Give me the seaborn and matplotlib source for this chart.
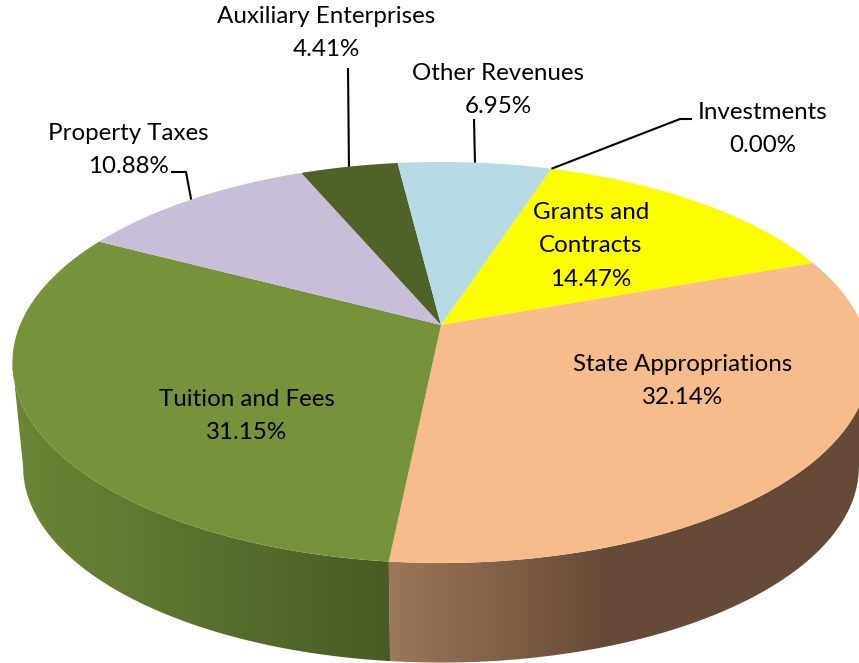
import numpy as np
import matplotlib
matplotlib.use("Agg")
import matplotlib.pyplot as plt
from matplotlib.patches import Polygon
import seaborn as sns

# ---- data (clockwise from the pie's first slice) ----
categories = ["Grants and\nContracts", "State Appropriations", "Tuition and Fees",
              "Property Taxes", "Auxiliary Enterprises", "Other Revenues", "Investments"]
shares = [14.47, 32.14, 31.15, 10.88, 4.41, 6.95, 0.00]
top_colors = ["#FDFD00", "#F6BC8B", "#76923A", "#C9BEDA", "#4F6228", "#B6DBE5", "#8064A2"]
side_light = [None, "#9C7759", "#6C8636", None, None, None, None]
side_dark = [None, "#644A37", "#485B24", None, None, None, None]

# ---- layout ----
START_DEG = 18.0
APEX_X, APEX_Y = 441.0, 325.0
RX, RY, K = 421.0, 193.5, 0.187     # perspective of the pie's top disc
BASE_SCALE, BASE_Y = 0.975, 430.5   # the lower disc
VISIBLE = (100.8, 259.2)            # part of the rim that faces the viewer
shade_span = {1: (388, 610), 2: (12, 388)}
label_xy = [(591, 246), (683, 381), (247, 416), (128, 150), (326, 33), (498, 90), (763, 129)]
leader_text = {3: [(171, 172), (186, 172)], 4: [(348, 68)], 5: [(474, 119)], 6: [(692, 119), (680, 119)]}
FONT = 17.4

sns.set_theme(style="white")
plt.rcParams["font.family"] = ["Lato", "DejaVu Sans"]


def project(deg, scale=1.0, y0=APEX_Y):
    """Map a clockwise pie angle onto the page through the chart's perspective."""
    a = np.radians(deg)
    x, y = np.sin(a), np.cos(a)
    w = 1 + K * y
    return APEX_X + scale * RX * x / w, y0 - scale * RY * y / w


edges = START_DEG + 3.6 * np.concatenate([[0], np.cumsum(shares)])

fig = plt.figure(figsize=(8.59, 6.63), dpi=100)
ax = fig.add_axes([0, 0, 1, 1])
ax.axis("off")

# side wall: a left-to-right colour ramp clipped to the wall's outline
for i, share in enumerate(shares):
    if side_light[i] is None:
        continue
    lo, hi = max(edges[i], VISIBLE[0]), min(edges[i + 1], VISIBLE[1])
    th = np.linspace(lo, hi, 300)
    tx, ty = project(th)
    bx, by = project(th, BASE_SCALE, BASE_Y)
    outline = np.c_[np.r_[tx, bx[::-1]], np.r_[ty, by[::-1]]]
    x0, x1 = shade_span[i]
    ramp = np.array(sns.blend_palette([side_light[i], side_dark[i]], 256))
    xpix = np.arange(0, 860)
    idx = (np.clip((xpix - x0) / (x1 - x0), 0, 1) * 255).astype(int)
    im = ax.imshow(ramp[idx][None, :, :], extent=(0, 859, 663, 0), aspect="auto",
                   interpolation="nearest", zorder=1)
    patch = Polygon(outline, closed=True, transform=ax.transData, fc="none", ec="none")
    ax.add_patch(patch)
    im.set_clip_path(patch)

# top face
for i, share in enumerate(shares):
    if share <= 0:
        continue
    th = np.linspace(edges[i], edges[i + 1], 200)
    x, y = project(th)
    ax.fill(np.r_[APEX_X, x], np.r_[APEX_Y, y], color=top_colors[i], lw=0, zorder=2)

# leader lines run from the label to the rim at the slice's middle
for i, pts in leader_text.items():
    mx, my = project((edges[i] + edges[i + 1]) / 2)
    xs = [p[0] for p in pts] + [mx]
    ys = [p[1] for p in pts] + [my]
    ax.plot(xs, ys, color="black", lw=1.5, solid_joinstyle="miter", solid_capstyle="butt", zorder=3)

# labels
for name, share, (lx, ly) in zip(categories, shares, label_xy):
    ax.text(lx, ly, f"{name}\n{share:.2f}%", ha="center", va="center", multialignment="center",
            fontsize=FONT, color="black", linespacing=1.74, zorder=4)

ax.set_xlim(0, 859)
ax.set_ylim(663, 0)
fig.savefig("out.png", dpi=100, facecolor="white")
